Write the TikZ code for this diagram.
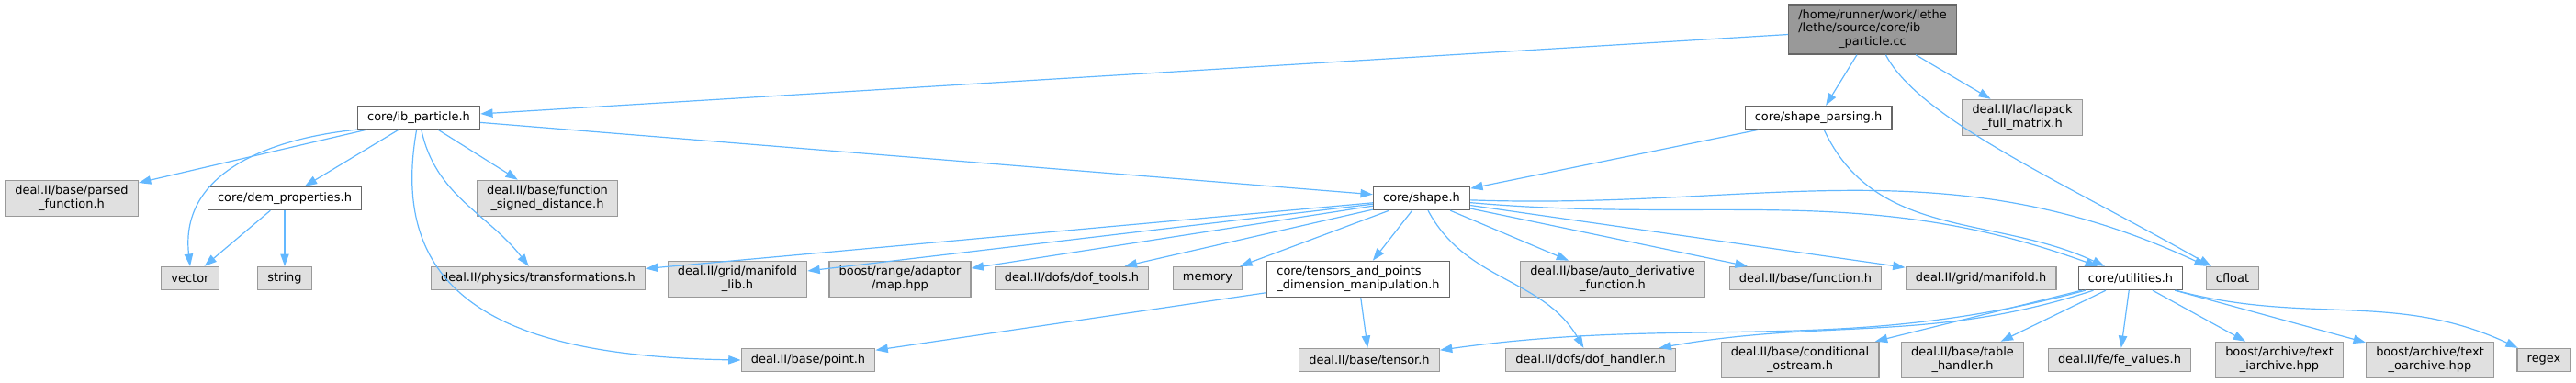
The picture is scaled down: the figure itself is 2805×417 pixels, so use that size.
\documentclass[tikz,border=0pt]{standalone}
\usepackage{fontspec}
\setmainfont{DejaVu Sans}
\usepackage{tikz}
\usetikzlibrary{arrows.meta}
\definecolor{edgeblue}{HTML}{63B8FF}
\definecolor{boxgray}{HTML}{E0E0E0}
\definecolor{boxline}{HTML}{999999}
\definecolor{srcfill}{HTML}{999999}
\definecolor{hdrline}{HTML}{666666}
% left-aligned lines, last line centred
\newcommand{\dlabel}[2]{\begin{tabular}{@{}l@{}}#1\\\multicolumn{1}{@{}c@{}}{#2}\end{tabular}}

\begin{document}
\begin{tikzpicture}[x=0.75pt, y=0.75pt,
    every node/.style={font=\fontsize{9.7}{11.2}\selectfont, inner xsep=8pt, inner ysep=3.5pt, minimum height=18.75pt, line width=1pt},
    ext/.style={draw=boxline, fill=boxgray},
    hdr/.style={draw=hdrline, fill=white},
    src/.style={draw=hdrline, fill=srcfill},
    edge/.style={draw=edgeblue, line width=0.9pt, -{Triangle[length=10pt, width=7pt]}}]
    \useasboundingbox (0,0) rectangle (2805,-417);

    % Source and first level
    \node[src] (ibcc) at (2039,-32) {\dlabel{/home/runner/work/lethe\\/lethe/source/core/ib}{\_particle.cc}};
    \node[hdr] (ibp) at (456,-128) {core/ib\_particle.h};
    \node[hdr] (shp) at (1980,-128) {core/shape\_parsing.h};
    \node[ext] (lapack) at (2202,-128) {\dlabel{deal.II/lac/lapack}{\_full\_matrix.h}};

    % Second level
    \node[ext] (parsed) at (78,-216) {\dlabel{deal.II/base/parsed}{\_function.h}};
    \node[hdr] (dem) at (310,-216) {core/dem\_properties.h};
    \node[ext] (fsd) at (596,-216) {\dlabel{deal.II/base/function}{\_signed\_distance.h}};
    \node[hdr] (shape) at (1548,-216) {core/shape.h};

    % Third level
    \node[ext] (vector) at (207,-303) {vector};
    \node[ext] (string) at (310,-303) {string};
    \node[ext] (transf) at (586,-303) {deal.II/physics/transformations.h};
    \node[ext] (mlib) at (803,-304) {\dlabel{deal.II/grid/manifold}{\_lib.h}};
    \node[ext] (map) at (980,-304) {\dlabel{boost/range/adaptor}{/map.hpp}};
    \node[ext] (doftools) at (1167,-303) {deal.II/dofs/dof\_tools.h};
    \node[ext] (memory) at (1315,-303) {memory};
    \node[hdr] (tensors) at (1479,-304) {\dlabel{core/tensors\_and\_points}{\_dimension\_manipulation.h}};
    \node[ext] (autoder) at (1756,-304) {\dlabel{deal.II/base/auto\_derivative}{\_function.h}};
    \node[ext] (func) at (1966,-303) {deal.II/base/function.h};
    \node[ext] (manifold) at (2157,-303) {deal.II/grid/manifold.h};
    \node[hdr] (util) at (2320,-303) {core/utilities.h};
    \node[ext] (cfloat) at (2431,-303) {cfloat};

    % Bottom level
    \node[ext] (point) at (880,-392) {deal.II/base/point.h};
    \node[ext] (tensor) at (1491,-392) {deal.II/base/tensor.h};
    \node[ext] (dofh) at (1732,-392) {deal.II/dofs/dof\_handler.h};
    \node[ext] (condos) at (1960,-392) {\dlabel{deal.II/base/conditional}{\_ostream.h}};
    \node[ext] (table) at (2137,-392) {\dlabel{deal.II/base/table}{\_handler.h}};
    \node[ext] (fevalues) at (2308,-392) {deal.II/fe/fe\_values.h};
    \node[ext] (iarch) at (2482,-392) {\dlabel{boost/archive/text}{\_iarchive.hpp}};
    \node[ext] (oarch) at (2646,-392) {\dlabel{boost/archive/text}{\_oarchive.hpp}};
    \node[ext] (regex) at (2770,-392) {regex};

    % Includes of the source
    \draw[edge] (ibcc) -- (ibp);
    \draw[edge] (ibcc) -- (shp);
    \draw[edge] (ibcc) -- (lapack);
    \draw[edge] (ibcc) .. controls (2090,-130) and (2250,-200) .. (cfloat);

    % core/ib_particle.h
    \draw[edge] (ibp) -- (parsed);
    \draw[edge] (ibp.south west) .. controls (300,-150) and (195,-185) .. (vector.north);
    \draw[edge] (ibp) -- (dem);
    \draw[edge] (ibp) .. controls (420,-330) and (560,-388) .. (point.west);
    \draw[edge] (ibp) to[out=-78, in=128] (transf);
    \draw[edge] (ibp) -- (fsd);
    \draw[edge] (ibp) -- (shape);

    % core/dem_properties.h
    \draw[edge] (dem) -- (vector);
    \draw[edge] (dem) -- (string);

    % core/shape_parsing.h
    \draw[edge] (shp) -- (shape);
    \draw[edge] (shp) to[out=-65, in=155] (util);

    % core/shape.h
    \foreach \dst in {transf, mlib, map, doftools, memory, tensors, autoder, func, manifold}
        \draw[edge] (shape) -- (\dst);
    \draw[edge] (shape) to[out=-62, in=120] (dofh);
    \draw[edge] (shape) to[out=-5, in=160] (util);
    \draw[edge] (shape) to[out=-2, in=155] (cfloat);

    % core/tensors_and_points_dimension_manipulation.h
    \draw[edge] (tensors) -- (point);
    \draw[edge] (tensors) -- (tensor);

    % core/utilities.h
    \draw[edge] (util) to[out=195, in=8] (tensor);
    \draw[edge] (util) to[out=198, in=10] (dofh);
    \foreach \dst in {condos, table, fevalues, iarch, oarch}
        \draw[edge] (util) -- (\dst);
    \draw[edge] (util) to[out=-15, in=155] (regex);
\end{tikzpicture}
\end{document}
